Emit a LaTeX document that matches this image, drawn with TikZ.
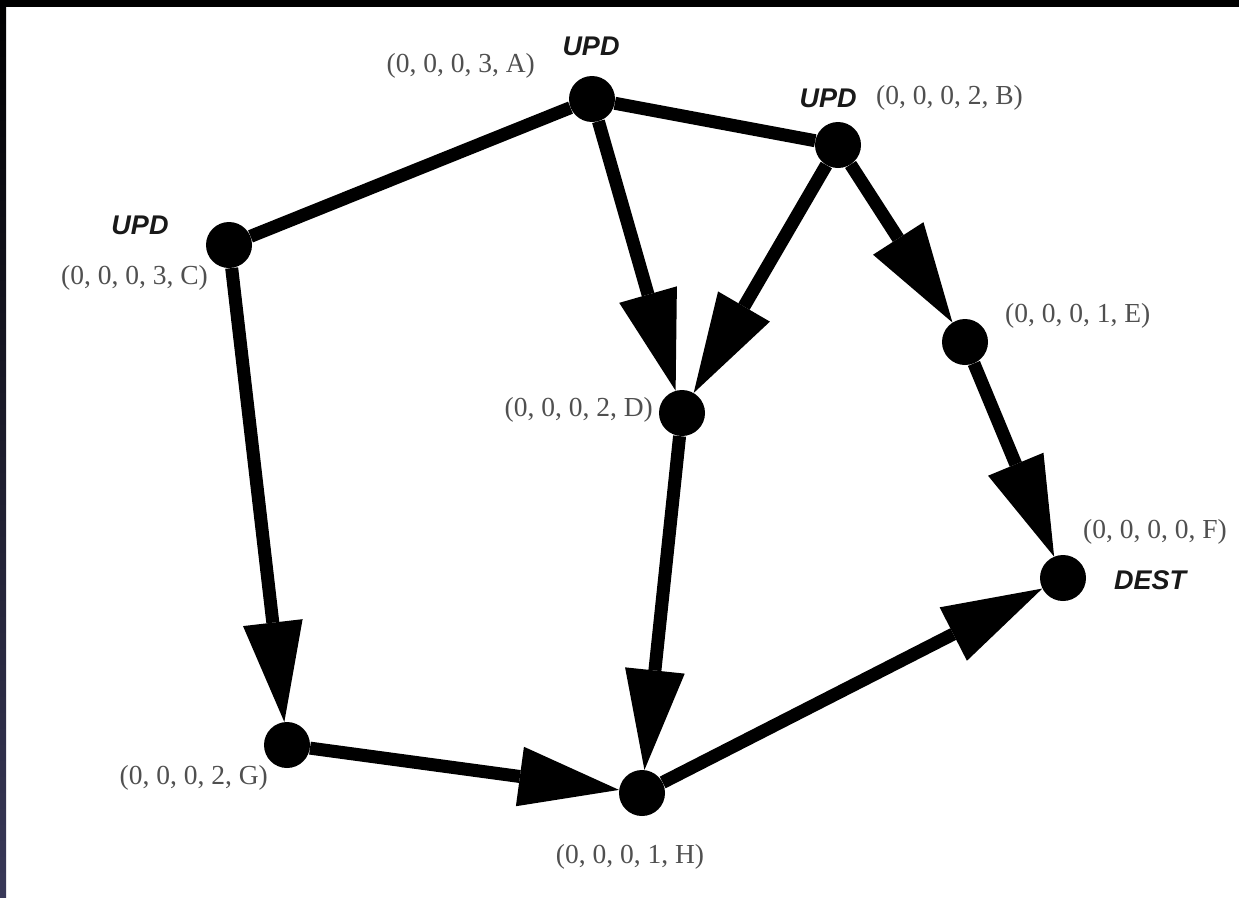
\documentclass[tikz,border=0pt]{standalone}
\usepackage{fontspec}
\setmainfont{Liberation Serif}
\newfontfamily\labelsans{Liberation Sans}
\usetikzlibrary{arrows.meta,backgrounds}
\definecolor{tuplegray}{RGB}{80,80,80}
\definecolor{edgenavy}{RGB}{56,56,88}
\tikzset{
  vertex/.style={circle,fill=black,minimum size=46pt,inner sep=0pt},
  link/.style={line width=13pt,black},
  flow/.style={link,-{Triangle[length=100pt,width=60pt,line width=0pt]}},
  tuple/.style={text=tuplegray,font=\fontsize{27.5}{29}\selectfont,inner sep=0pt},
  role/.style={text=black!90,font=\labelsans\bfseries\itshape\fontsize{27}{29}\selectfont,inner sep=0pt}
}
\begin{document}
\begin{tikzpicture}[x=1pt,y=-1pt]
  \useasboundingbox (0,0) rectangle (1239,897);

  % routers
  \node[vertex] (A) at (592,99) {};
  \node[vertex] (B) at (838,145) {};
  \node[vertex] (C) at (229,245) {};
  \node[vertex] (D) at (682,413) {};
  \node[vertex] (E) at (965,342) {};
  \node[vertex] (F) at (1063,578) {};
  \node[vertex] (G) at (287,745) {};
  \node[vertex] (H) at (642,793) {};

  \begin{pgfonlayer}{background}
    % page frame
    \fill[white] (0,0) rectangle (1239,897);
    \fill[black] (0,0) rectangle (1239,7);
    \shade[top color=black,bottom color=edgenavy] (0,0) rectangle (6,897);

    % links and directed routes
    \draw[link] (C) -- (A);
    \draw[link] (A) -- (B);
    \draw[flow] (A) -- (D);
    \draw[flow] (B) -- (D);
    \draw[flow] (B) -- (E);
    \draw[flow] (E) -- (F);
    \draw[flow] (C) -- (G);
    \draw[flow] (D) -- (H);
    \draw[flow] (G) -- (H);
    \draw[flow] (H) -- (F);
  \end{pgfonlayer}

  % state tuples
  \node[tuple,anchor=east] (tA) at (535,66) {(0, 0, 0, 3, A)};
  \node[tuple,anchor=west] (tB) at (876,98) {(0, 0, 0, 2, B)};
  \node[tuple,anchor=east] (tC) at (208,278) {(0, 0, 0, 3, C)};
  \node[tuple,anchor=west] (tE) at (1005,316) {(0, 0, 0, 1, E)};
  \node[tuple,anchor=east] (tD) at (653,410) {(0, 0, 0, 2, D)};
  \node[tuple,anchor=west] (tF) at (1083,532) {(0, 0, 0, 0, F)};
  \node[tuple,anchor=east] (tG) at (268,778) {(0, 0, 0, 2, G)};
  \node[tuple] (tH) at (630,857) {(0, 0, 0, 1, H)};

  % role markers
  \node[role] (uA) at (591,46) {UPD};
  \node[role] (uB) at (828,98) {UPD};
  \node[role] (uC) at (140,225) {UPD};
  \node[role] (dF) at (1150,580) {DEST};
\end{tikzpicture}
\end{document}
